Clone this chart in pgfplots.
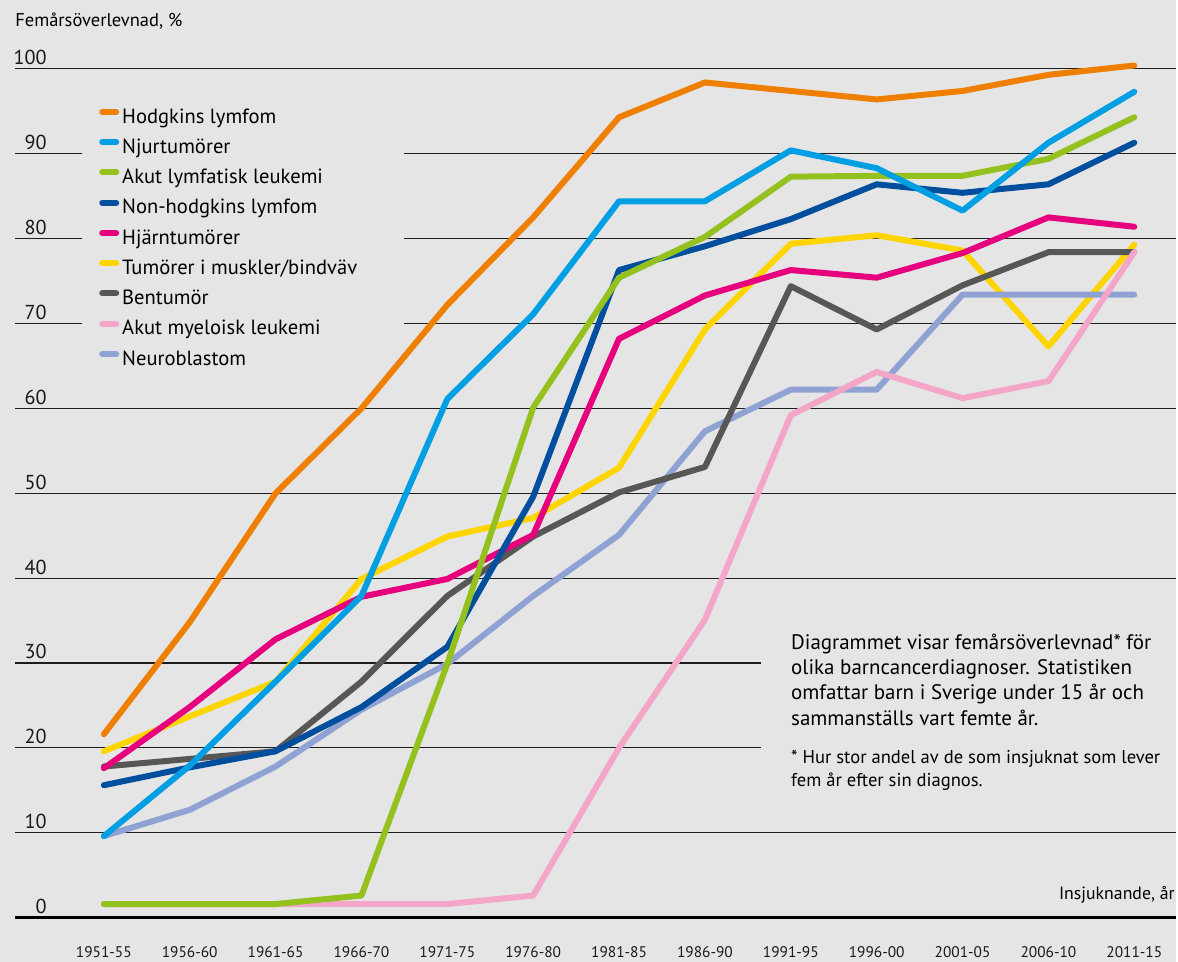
\documentclass[border=0pt]{standalone}
\usepackage{pgfplots}
\pgfplotsset{compat=1.18}
\usepackage{pgfplotstable}
\usepackage{fontspec}
\setmainfont{PT Sans}
\usetikzlibrary{backgrounds}
\definecolor{bgc}{HTML}{E5E5E5}
\definecolor{cHod}{HTML}{EE7F00}
\definecolor{cNju}{HTML}{009FE3}
\definecolor{cALL}{HTML}{95C11F}
\definecolor{cNHL}{HTML}{004F9F}
\definecolor{cHja}{HTML}{E6007E}
\definecolor{cTum}{HTML}{FFD500}
\definecolor{cBen}{HTML}{575756}
\definecolor{cAML}{HTML}{F4A6C9}
\definecolor{cNeu}{HTML}{8FA2D3}
\definecolor{gridc}{HTML}{1D1D1B}
\pgfplotstableread{
x  hod   nju   all   nhl   hja   tum   ben   aml   neu
0  21.6  9.6   1.6   15.6  17.6  19.6  17.8  1.6   9.6
1  34.8  17.9  1.6   17.7  24.8  23.7  18.7  1.6   12.7
2  50.0  27.8  1.6   19.6  32.8  27.8  19.6  1.6   17.8
3  60.0  37.9  2.6   24.8  37.8  39.9  27.8  1.6   24.5
4  72.2  61.1  29.9  31.9  39.9  44.9  37.9  1.6   29.9
5  82.5  71.1  60.1  49.6  45.1  47.1  44.9  2.6   37.9
6  94.3  84.4  75.4  76.3  68.2  53.0  50.1  20.0  45.1
7  98.4  84.4  80.2  79.1  73.3  69.3  53.1  35.1  57.3
8  97.4  90.4  87.3  82.3  76.3  79.4  74.4  59.2  62.2
9  96.4  88.3  87.4  86.4  75.4  80.4  69.3  64.3  62.2
10 97.4  83.3  87.4  85.4  78.3  78.6  74.5  61.2  73.4
11 99.3  91.3  89.4  86.4  82.5  67.3  78.4  63.2  73.4
12 100.4 97.3  94.3  91.3  81.4  79.3  78.4  78.4  73.4
}\datatable
\begin{document}
\begin{tikzpicture}
\begin{axis}[
  scale only axis, width=581.5pt, height=459.5pt,
  xmin=-1.0349, xmax=12.4884, ymin=0, ymax=108.118,
  axis line style={draw=none}, tick style={draw=none},
  xtick={0,...,12},
  xticklabels={1951-55,1956-60,1961-65,1966-70,1971-75,1976-80,1981-85,1986-90,1991-95,1996-00,2001-05,2006-10,2011-15},
  ytick={0,10,...,100},
  xticklabel style={anchor=center, inner sep=0pt, yshift=-17.5pt, font=\fontsize{7.7}{9}\selectfont, text=black!90},
  yticklabel style={anchor=base east, inner sep=0pt, xshift=16pt, yshift=2pt, font=\fontsize{10.1}{12}\selectfont, text=black!90},
  /pgf/number format/assume math mode=true,
  clip=false,
  legend cell align=left,
  legend style={at={(axis cs:-0.0581,95.33)}, anchor=north west, draw=none, fill=none, inner sep=0pt,
    row sep=5.6pt, column sep=1.5pt, font=\fontsize{10.3}{12}\selectfont,
    nodes={inner sep=0pt, text height=7pt, text depth=2.5pt}},
  legend image code/.code={\draw[#1, line width=3pt, line cap=round] (0pt,3.3pt) -- (7pt,3.3pt);},
  every axis plot/.append style={line width=3pt, line cap=round, line join=round},
]
% grid lines
\draw[gridc, line width=0.6pt] (axis cs:-1.0349,100) -- (axis cs:12.4884,100);
\pgfplotsinvokeforeach{90,80,70}{
  \draw[gridc, line width=0.6pt] (axis cs:-1.0349,#1) -- (axis cs:-0.2558,#1);
  \draw[gridc, line width=0.6pt] (axis cs:3.5,#1) -- (axis cs:12.4884,#1);
}
\pgfplotsinvokeforeach{60,50,40,10}{
  \draw[gridc, line width=0.6pt] (axis cs:-1.0349,#1) -- (axis cs:12.4884,#1);
}
\pgfplotsinvokeforeach{30,20}{
  \draw[gridc, line width=0.6pt] (axis cs:-1.0349,#1) -- (axis cs:7.651,#1);
}
\draw[black, line width=1.8pt] (axis cs:-1.0349,0) -- (axis cs:12.4884,0);

\addlegendimage{cHod}\addlegendentry{Hodgkins lymfom}
\addlegendimage{cNju}\addlegendentry{Njurtumörer}
\addlegendimage{cALL}\addlegendentry{Akut lymfatisk leukemi}
\addlegendimage{cNHL}\addlegendentry{Non-hodgkins lymfom}
\addlegendimage{cHja}\addlegendentry{Hjärntumörer}
\addlegendimage{cTum}\addlegendentry{Tumörer i muskler/bindväv}
\addlegendimage{cBen}\addlegendentry{Bentumör}
\addlegendimage{cAML}\addlegendentry{Akut myeloisk leukemi}
\addlegendimage{cNeu}\addlegendentry{Neuroblastom}

\addplot[cTum, forget plot] table[x=x, y=tum] {\datatable};
\addplot[cNeu, forget plot] table[x=x, y=neu] {\datatable};
\addplot[cBen, forget plot] table[x=x, y=ben] {\datatable};
\addplot[cAML, forget plot] table[x=x, y=aml] {\datatable};
\addplot[cHja, forget plot] table[x=x, y=hja] {\datatable};
\addplot[cNHL, forget plot] table[x=x, y=nhl] {\datatable};
\addplot[cALL, forget plot] table[x=x, y=all] {\datatable};
\addplot[cNju, forget plot] table[x=x, y=nju] {\datatable};
\addplot[cHod, forget plot] table[x=x, y=hod] {\datatable};

\node[anchor=base west, inner sep=0pt, font=\fontsize{9.25}{11}\selectfont] at (axis cs:-1.0349,104.94) {Femårsöverlevnad, \%};
\node[anchor=base east, inner sep=0pt, font=\fontsize{8.9}{10}\selectfont] at (axis cs:12.475,2.118) {Insjuknande, år};
\node[anchor=base west, inner sep=0pt, font=\fontsize{10.5}{12}\selectfont] at (axis cs:8.0,31.647) {Diagrammet visar femårsöverlevnad* för};
\node[anchor=base west, inner sep=0pt, font=\fontsize{10.5}{12}\selectfont] at (axis cs:8.0,28.647) {olika barncancerdiagnoser. Statistiken};
\node[anchor=base west, inner sep=0pt, font=\fontsize{10.5}{12}\selectfont] at (axis cs:8.0,25.647) {omfattar barn i Sverige under 15 år och};
\node[anchor=base west, inner sep=0pt, font=\fontsize{10.5}{12}\selectfont] at (axis cs:8.0,22.647) {sammanställs vart femte år.};
\node[anchor=base west, inner sep=0pt, font=\fontsize{9.3}{11}\selectfont] at (axis cs:8.0,18.118) {* Hur stor andel av de som insjuknat som lever};
\node[anchor=base west, inner sep=0pt, font=\fontsize{9.3}{11}\selectfont] at (axis cs:8.0,15.412) {fem år efter sin diagnos.};

\coordinate (BL) at (axis cs:-1.2093,-5.1765);
\coordinate (TR) at (axis cs:12.4884,108.118);
\end{axis}
\begin{scope}[on background layer]
\fill[bgc] (BL) rectangle (TR);
\end{scope}
\end{tikzpicture}
\end{document}
